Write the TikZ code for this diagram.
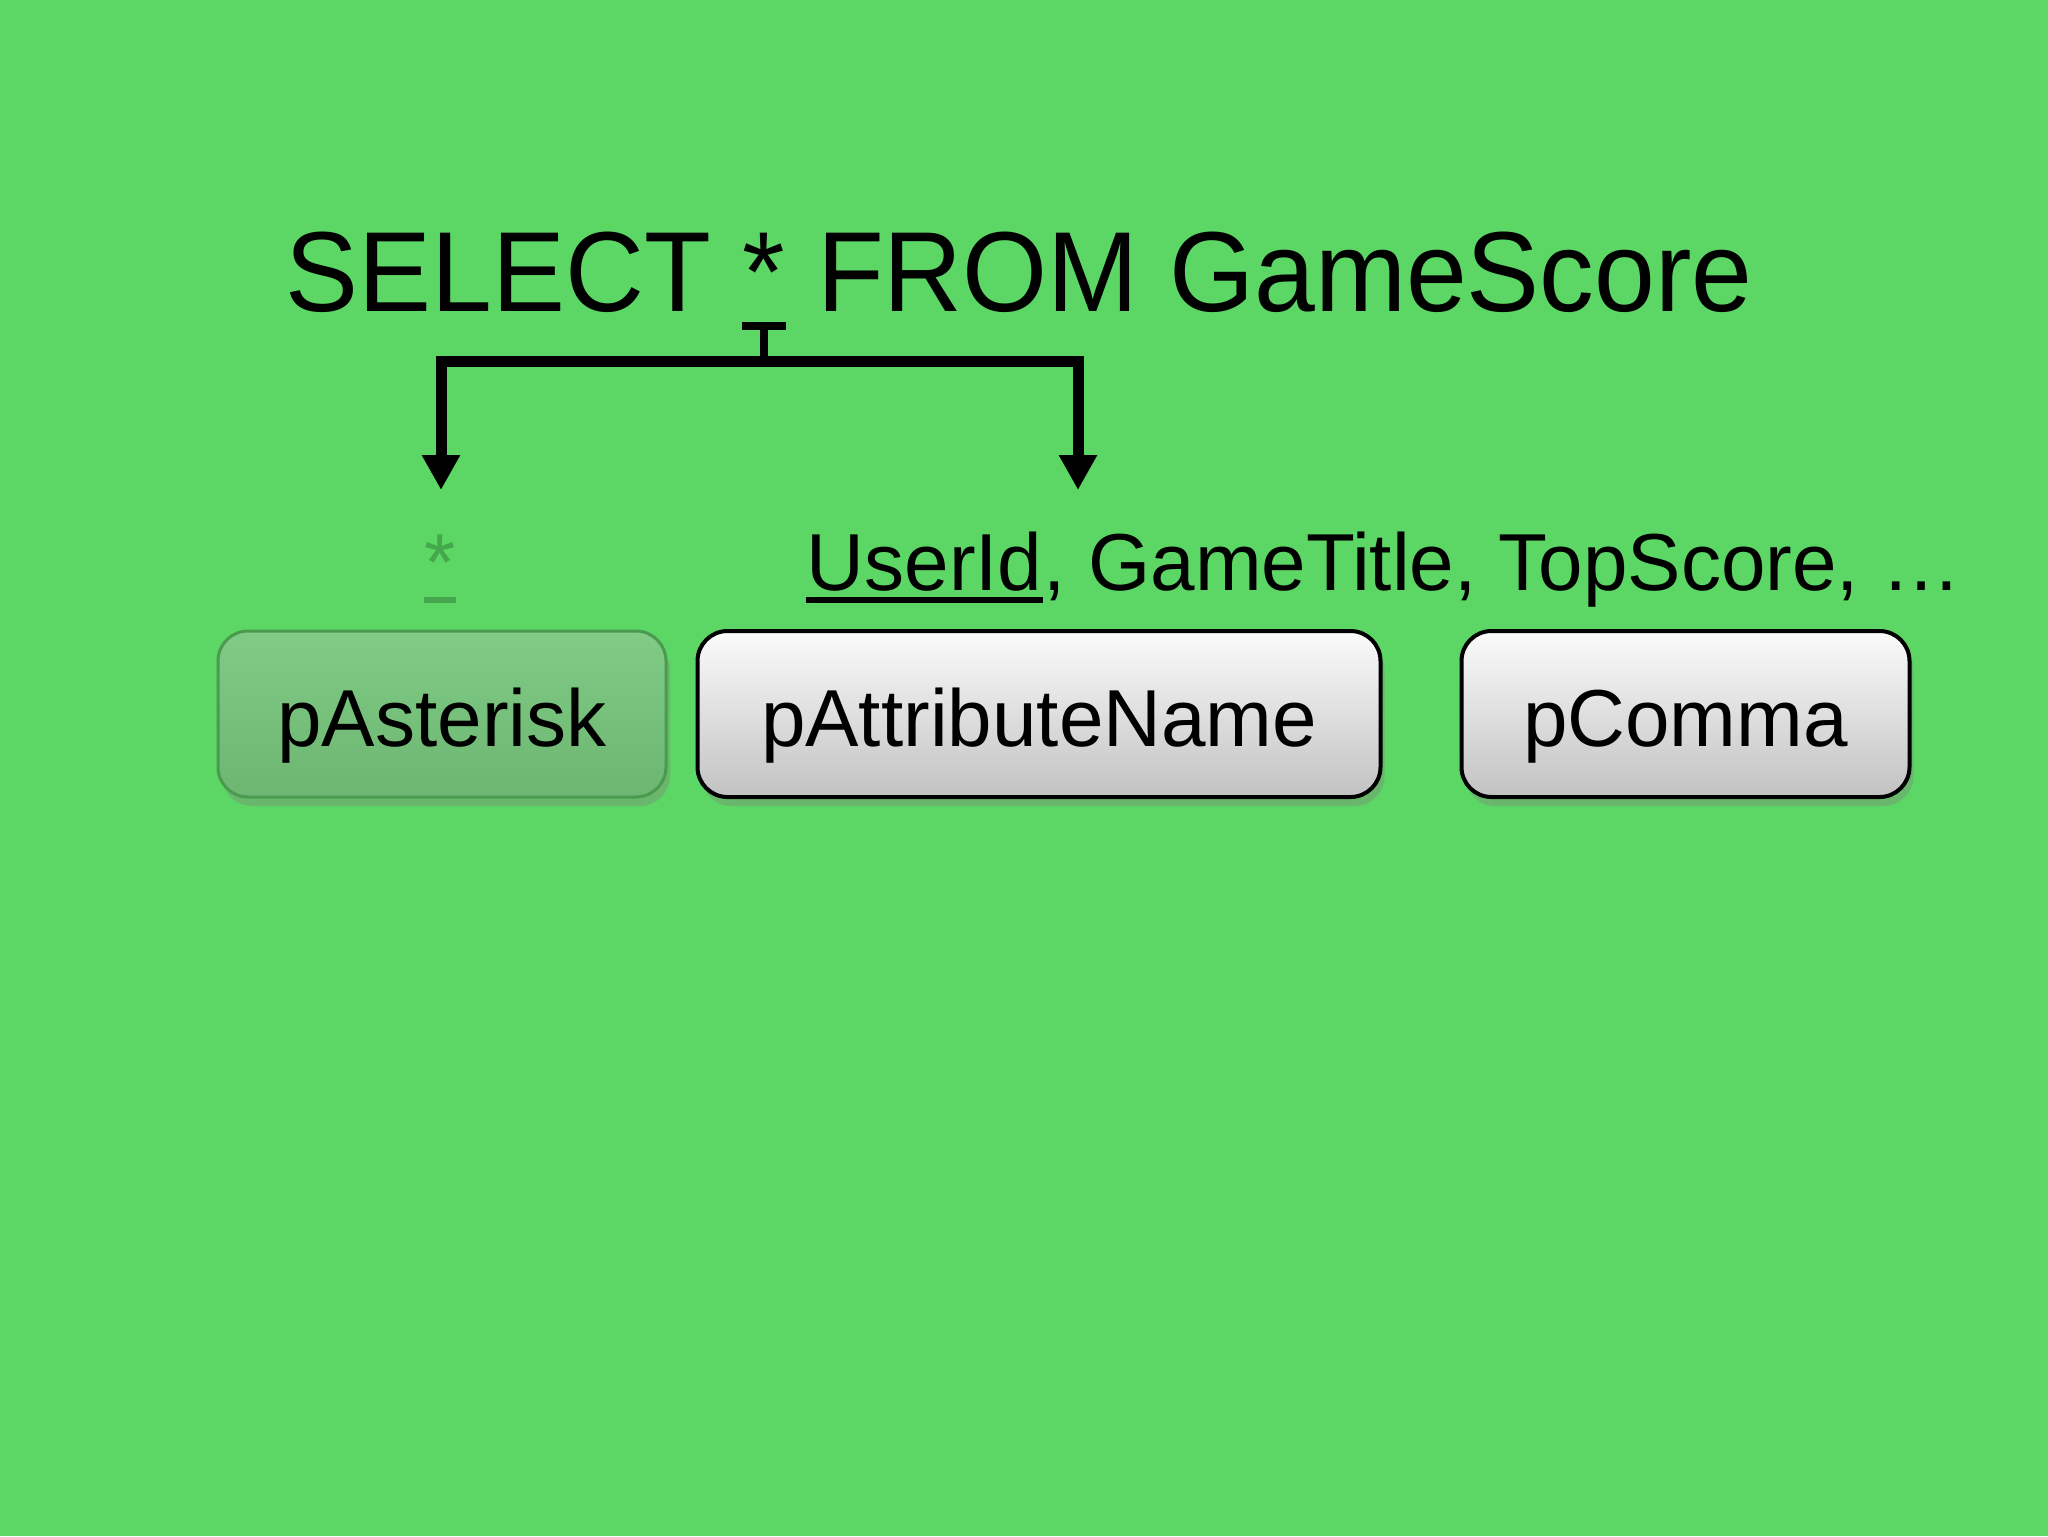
\documentclass[tikz,border=0pt]{standalone}
\usepackage{fontspec}
\setmainfont{Liberation Sans}[FakeStretch=0.99]
\newfontfamily\titlefont{Liberation Sans}[FakeStretch=0.96]
\usetikzlibrary{arrows.meta}
\usetikzlibrary{positioning}
\usetikzlibrary{shadows}
\definecolor{slidegreen}{HTML}{5CD664}
\definecolor{astgreen}{HTML}{45A84C}
\definecolor{boxgreentop}{HTML}{80CB85}
\definecolor{boxgreenbot}{HTML}{6CB672}
\definecolor{boxgreenline}{HTML}{4A9A50}
\definecolor{boxgreytop}{HTML}{FBFBFB}
\definecolor{boxgreybot}{HTML}{C2C2C2}

\begin{document}
\begin{tikzpicture}[x=0.1mm,y=-0.1mm,
    bigtext/.style={inner sep=0pt,anchor=base west,font=\titlefont\fontsize{32.4}{38}\selectfont},
    midtext/.style={inner sep=0pt,anchor=base west,font=\fontsize{23}{28}\selectfont},
    parser/.style={rounded corners=3mm,minimum width=44.8mm,minimum height=16.6mm,inner sep=0pt,
      text height=6.4mm,text depth=0pt,font=\fontsize{23}{28}\selectfont,
      drop shadow={shadow xshift=0.4mm,shadow yshift=-0.9mm,opacity=0.35}},
    greenbox/.style={draw=boxgreenline,line width=0.3mm,top color=boxgreentop,bottom color=boxgreenbot},
    greybox/.style={draw=black,line width=0.4mm,top color=boxgreytop,bottom color=boxgreybot},
    bracket/.style={line width=1.1mm,{Triangle[width=3.6mm,length=3.5mm]}-{Triangle[width=3.6mm,length=3.5mm]}}]
  \useasboundingbox (0,0) rectangle (2048,1536);
  \fill[slidegreen] (0,0) rectangle (2048,1536);

  \node[bigtext] (sel) at (285,311) {SELECT};
  \node[bigtext] (star) at ([xshift=3.04mm]sel.base east) {*};
  \node[bigtext] (from) at ([xshift=3.04mm]star.base east) {FROM GameScore};
  \draw[line width=0.8mm] ([yshift=-1.5mm]star.base west) -- ([yshift=-1.5mm]star.base east);

  \coordinate (split) at ([yshift=-5mm]star.base);
  \coordinate (toAst) at (441,490);
  \coordinate (toAttr) at (1078,490);
  \draw[line width=0.85mm] ([yshift=-1.5mm]star.base) -- (split);
  \draw[bracket] (toAst) |- (split) -| (toAttr);

  \node[midtext,anchor=base,text=astgreen] (ast) at (440,590) {*};
  \draw[astgreen,line width=0.6mm] ([yshift=-1mm]ast.base west) -- ([yshift=-1mm]ast.base east);
  \node[midtext] (uid) at (806,590) {UserId};
  \node[midtext] (rest) at (uid.base east) {, GameTitle, TopScore, …};
  \draw[line width=0.55mm] ([yshift=-1mm]uid.base west) -- ([yshift=-1mm]uid.base east);

  \node[parser,greenbox] (past) at (442,714) {pAsterisk};
  \node[parser,greybox,minimum width=68.3mm,right=2.8mm of past] (pattr) {pAttributeName};
  \node[parser,greybox,right=7.7mm of pattr] (pcomma) {pComma};
\end{tikzpicture}
\end{document}
